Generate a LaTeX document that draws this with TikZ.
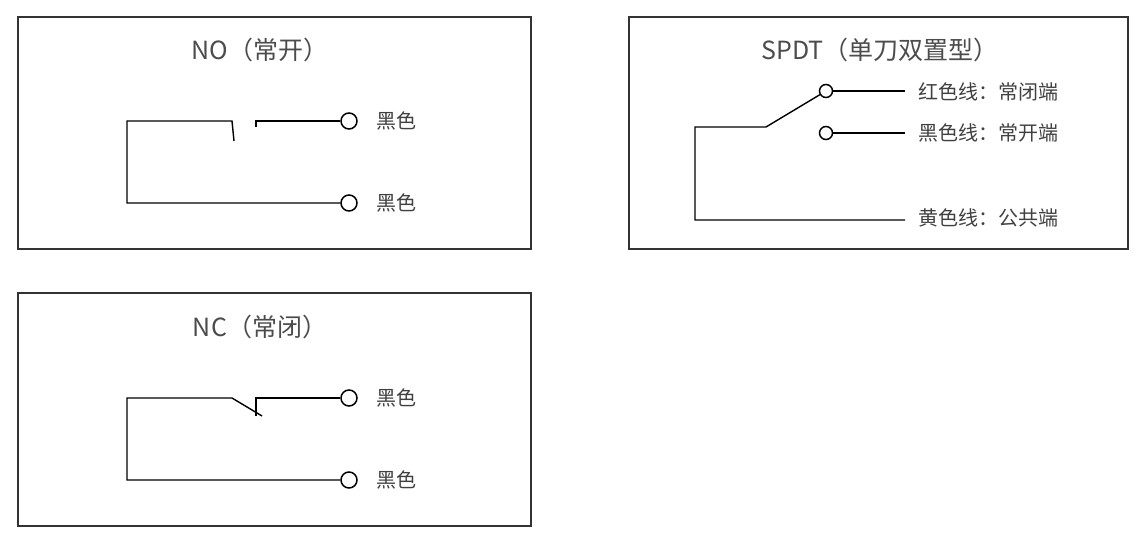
\documentclass[tikz,border=0pt]{standalone}
\usepackage{fontspec}
\setmainfont{Noto Sans CJK SC}
\begin{document}
\begin{tikzpicture}[x=1pt,y=-1pt,
  box/.style={draw=black!80,line width=1.1pt},
  wire/.style={draw=black,line width=1.4pt},
  term/.style={circle,draw=black,line width=1.5pt,minimum size=16pt,inner sep=0pt,fill=white},
  ttl/.style={font=\fontsize{25}{29}\selectfont,text=black!70},
  lbl/.style={font=\fontsize{20}{24}\selectfont,text=black!75,anchor=west,inner sep=0pt}]
\useasboundingbox (0,0) rectangle (1140,537);
% NO
\draw[box] (18,17) rectangle (531,249);
\node[ttl] (t1) at (260,50) {NO（常开）};
\node[term] (a1) at (349,121) {};
\node[term] (a2) at (349,203) {};
\node[lbl] (l1) at (376,121) {黑色};
\node[lbl] (l2) at (376,203) {黑色};
\coordinate (p1) at (127,203);
\coordinate (p2) at (127,121);
\coordinate (p3) at (232,121);
\coordinate (p4) at (234,141);
\coordinate (q1) at (256,127);
\coordinate (q2) at (256,121);
\draw[wire] (a2) -- (p1) -- (p2) -- (p3) -- (p4);
\draw[wire] (q1) -- (q2) -- (a1);
% NC
\draw[box] (18,293) rectangle (531,526);
\node[ttl] (t2) at (260,327) {NC（常闭）};
\node[term] (b1) at (349,398) {};
\node[term] (b2) at (349,480) {};
\node[lbl] (m1) at (376,398) {黑色};
\node[lbl] (m2) at (376,480) {黑色};
\coordinate (r1) at (127,480);
\coordinate (r2) at (127,398);
\coordinate (r3) at (232,398);
\coordinate (r4) at (262,416);
\coordinate (s1) at (256,416);
\coordinate (s2) at (256,398);
\draw[wire] (b2) -- (r1) -- (r2) -- (r3) -- (r4);
\draw[wire] (s1) -- (s2) -- (b1);
% SPDT
\draw[box] (629,17) rectangle (1128,249);
\node[ttl] (t3) at (880,50) {SPDT（单刀双置型）};
\node[term,minimum size=13pt] (c1) at (826,91) {};
\node[term,minimum size=13pt] (c2) at (826,133) {};
\coordinate (e1) at (905,91);
\coordinate (e2) at (905,133);
\coordinate (e3) at (905,220);
\coordinate (u1) at (695,220);
\coordinate (u2) at (695,127);
\coordinate (u3) at (766,127);
\draw[wire] (c1) -- (e1);
\draw[wire] (c2) -- (e2);
\draw[wire] (e3) -- (u1) -- (u2) -- (u3) -- (c1);
\node[lbl] (n1) at (918,92) {红色线：常闭端};
\node[lbl] (n2) at (918,133) {黑色线：常开端};
\node[lbl] (n3) at (918,218) {黄色线：公共端};
\end{tikzpicture}
\end{document}
